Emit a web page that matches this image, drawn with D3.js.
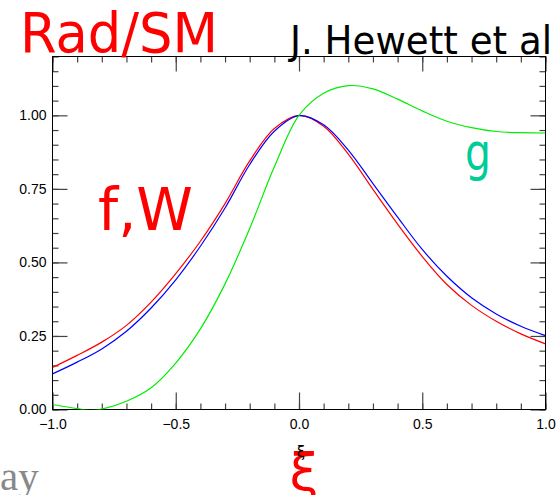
<!DOCTYPE html>
<html><head><meta charset="utf-8">
<script src="https://cdn.jsdelivr.net/npm/d3@7"></script>
<style>html,body{margin:0;padding:0;background:#fff;overflow:hidden}</style>
</head><body>
<svg id="c" width="560" height="495"></svg>
<script>
// ---- data ----
const xiFW = [-1.0,-0.9,-0.8,-0.7,-0.6,-0.5,-0.4,-0.3,-0.2,-0.1,0.0,0.1,0.2,0.3,0.4,0.5,0.6,0.7,0.8,0.9,1.0];
const fVals = [0.143,0.184,0.229,0.286,0.365,0.462,0.572,0.700,0.845,0.955,1.0,0.963,0.868,0.748,0.630,0.520,0.425,0.354,0.300,0.257,0.223];
const wVals = [0.121,0.161,0.206,0.266,0.345,0.441,0.555,0.685,0.833,0.946,0.999,0.968,0.882,0.768,0.654,0.544,0.453,0.380,0.325,0.283,0.251];
const xiG = [-1.0,-0.9,-0.85,-0.8,-0.7,-0.6,-0.5,-0.4,-0.3,-0.2,-0.1,0.0,0.1,0.2,0.3,0.4,0.5,0.6,0.7,0.8,0.9,1.0];
const gVals = [0.017,0.003,-0.003,0.001,0.028,0.074,0.158,0.274,0.427,0.615,0.825,1.0,1.075,1.101,1.090,1.055,1.015,0.980,0.958,0.945,0.941,0.940];
const xMajor = [-1.0,-0.5,0.0,0.5,1.0];
const xLabels = ["\u22121.0","\u22120.5","0.0","0.5","1.0"];
const yMajor = [0,0.25,0.5,0.75,1.0];
const yLabels = ["0.00","0.25","0.50","0.75","1.00"];
const xMinor = d3.range(-10,11).map(d=>d/10);
const yMinor = d3.range(0,25).map(d=>d*0.05);

const svg = d3.select("#c");
const x = d3.scaleLinear().domain([-1,1]).range([52.5,545.5]);
const y = d3.scaleLinear().domain([0,1.2]).range([409.5,56.5]);

svg.append("defs").append("clipPath").attr("id","pc")
  .append("rect").attr("x",52.5).attr("y",56.5).attr("width",493).attr("height",353);

const tickCol = "#444";
function styleAxis(g){
  g.select(".domain").remove();
  g.selectAll(".tick line").attr("stroke",tickCol).attr("stroke-width",1.2);
  g.selectAll("text").attr("fill","#000").attr("font-family","'Liberation Sans',Arial,sans-serif").attr("font-size",14);
}
// minor ticks
svg.append("g").attr("transform","translate(0,409.5)")
  .call(d3.axisBottom(x).tickValues(xMinor).tickSize(-6).tickFormat("")).call(styleAxis);
svg.append("g").attr("transform","translate(0,56.5)")
  .call(d3.axisTop(x).tickValues(xMinor).tickSize(-6).tickFormat("")).call(styleAxis);
svg.append("g").attr("transform","translate(52.5,0)")
  .call(d3.axisLeft(y).tickValues(yMinor).tickSize(-6).tickFormat("")).call(styleAxis);
svg.append("g").attr("transform","translate(545.5,0)")
  .call(d3.axisRight(y).tickValues(yMinor).tickSize(-6).tickFormat("")).call(styleAxis);
// major ticks
svg.append("g").attr("transform","translate(0,409.5)")
  .call(d3.axisBottom(x).tickValues(xMajor).tickSize(-17).tickPadding(10)
    .tickFormat((d,i)=>xLabels[i])).call(styleAxis);
svg.append("g").attr("transform","translate(0,56.5)")
  .call(d3.axisTop(x).tickValues(xMajor).tickSize(-15).tickFormat("")).call(styleAxis);
svg.append("g").attr("transform","translate(52.5,0)")
  .call(d3.axisLeft(y).tickValues(yMajor).tickSize(-15).tickPadding(6)
    .tickFormat((d,i)=>yLabels[i])).call(styleAxis);
svg.append("g").attr("transform","translate(545.5,0)")
  .call(d3.axisRight(y).tickValues(yMajor).tickSize(-15).tickFormat("")).call(styleAxis);

// frame
svg.append("rect").attr("x",52.5).attr("y",56.5).attr("width",493).attr("height",353)
  .attr("fill","none").attr("stroke","#000").attr("stroke-width",1);

// curves
const plot = svg.append("g").attr("clip-path","url(#pc)");
const line = d3.line().x(d=>x(d[0])).y(d=>y(d[1])).curve(d3.curveCatmullRom.alpha(0.5));
plot.append("path").attr("d",line(xiFW.map((v,i)=>[v,fVals[i]])))
  .attr("fill","none").attr("stroke","#ff0000").attr("stroke-width",1.2);
plot.append("path").attr("d",line(xiFW.map((v,i)=>[v,wVals[i]])))
  .attr("fill","none").attr("stroke","#0000ff").attr("stroke-width",1.2);
plot.append("path").attr("d",line(xiG.map((v,i)=>[v,gVals[i]])))
  .attr("fill","none").attr("stroke","#00ee00").attr("stroke-width",1.2);

// texts
const comic = "'Comic Sans MS','DejaVu Sans',sans-serif";
svg.append("text").attr("x",20).attr("y",52).text("Rad/SM")
  .attr("font-family",comic).attr("font-size",55).attr("fill","#ff0000")
  .attr("textLength",198).attr("lengthAdjust","spacingAndGlyphs");
svg.append("text").attr("x",290).attr("y",54).text("J. Hewett et al")
  .attr("font-family",comic).attr("font-size",39).attr("fill","#000")
  .attr("textLength",262).attr("lengthAdjust","spacingAndGlyphs");
svg.append("text").attr("x",98).attr("y",230).text("f,W")
  .attr("font-family",comic).attr("font-size",58).attr("fill","#ff0000")
  .attr("textLength",95).attr("lengthAdjust","spacingAndGlyphs");
svg.append("text").attr("x",465).attr("y",170).text("g")
  .attr("font-family",comic).attr("font-size",52).attr("fill","#00cc99")
  .attr("textLength",26).attr("lengthAdjust","spacingAndGlyphs");
svg.append("text").attr("x",0).attr("y",490).text("ay")
  .attr("font-family","'Liberation Serif','Times New Roman',serif").attr("font-size",41).attr("fill","#888");
svg.append("text").attr("x",304).attr("y",490).attr("text-anchor","middle").text("\u03BE")
  .attr("font-family",comic).attr("font-size",52).attr("fill","#ff0000");
svg.append("text").attr("x",301).attr("y",457).attr("text-anchor","middle").text("\u03BE")
  .attr("font-family","'DejaVu Sans',sans-serif").attr("font-size",15).attr("fill","#000");
</script>
</body></html>
